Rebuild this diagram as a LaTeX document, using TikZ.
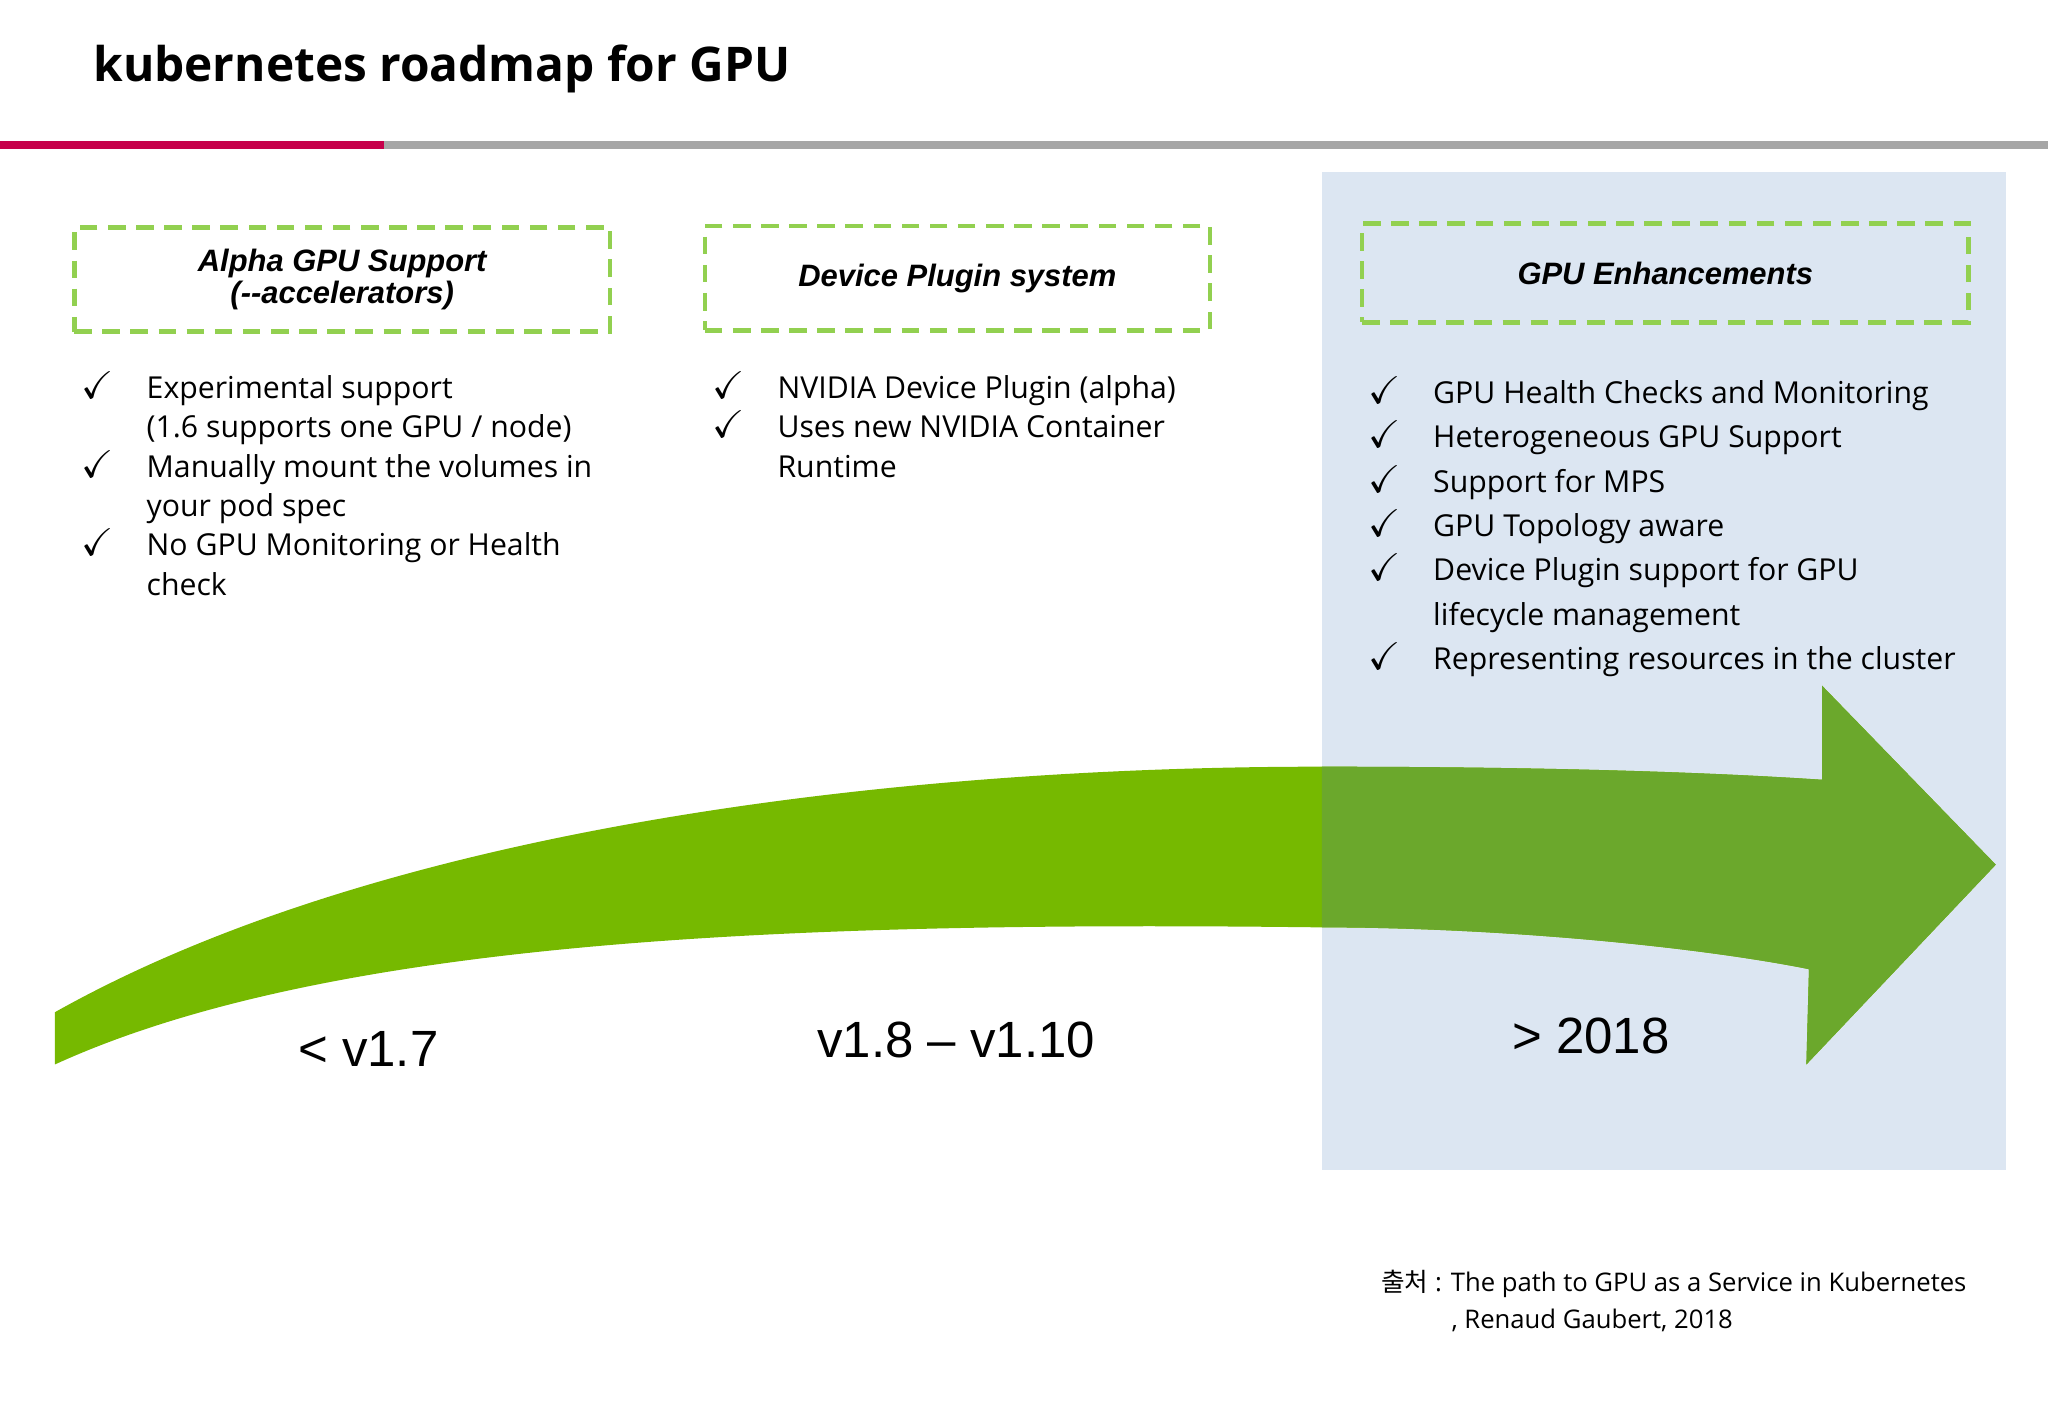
\documentclass[tikz,border=0pt]{standalone}
\usepackage{fontspec}
\usepackage{amssymb}
\setmainfont{Open Sans}
\newfontfamily\arialf{Liberation Sans}
\newfontfamily\cjk{Noto Sans CJK KR}
\definecolor{nvgreen}{HTML}{76B900}
\definecolor{nvdark}{HTML}{6BA82C}
\definecolor{panelblue}{HTML}{DCE6F2}
\definecolor{dashgreen}{HTML}{92D050}
\definecolor{lgred}{HTML}{C6004A}
\newcommand{\roadarrow}{(42,775) .. controls (300,630) and (700,587) .. (1010,587)
  .. controls (1200,587) and (1320,592) .. (1395,597) -- (1395,525) -- (1528,662)
  -- (1383,815) -- (1385,742) .. controls (1300,725) and (1150,710) .. (1010,710)
  .. controls (600,705) and (250,720) .. (42,815) -- cycle}
\newcommand{\ck}{\makebox[18.5pt][l]{\fontsize{11}{11}\selectfont$\checkmark$}}
\newcommand{\ind}{\hspace*{18.5pt}}
\begin{document}
\begin{tikzpicture}[x=0.01306cm,y=-0.01306cm]
        % styles
        \tikzstyle{phase}=[draw=dashgreen, line width=1.3pt, dash pattern=on 5pt off 3pt, minimum width=152.5pt, minimum height=29.6pt, align=center, font=\arialf\bfseries\itshape\fontsize{8.8}{9}\selectfont]
        \tikzstyle{item}=[anchor=north west, align=left, font=\fontsize{8.6}{11.2}\selectfont, inner sep=0pt]
        \tikzstyle{version}=[font=\arialf\fontsize{14.5}{15}\selectfont]
        \useasboundingbox (0,0) rectangle (1568,1085);

        % title
        \node[anchor=west, font=\bfseries\fontsize{13.6}{16}\selectfont] (title) at (62,53) {kubernetes roadmap for GPU};
        \fill[gray!70] (294,108) rectangle (1568,114);
        \fill[lgred] (0,108) rectangle (294,114);

        % panel and arrow
        \fill[panelblue] (1012,132) rectangle (1536,896);
        \fill[nvgreen] \roadarrow;
        \begin{scope}
            \clip (1012,132) rectangle (1536,896);
            \fill[nvdark] \roadarrow;
        \end{scope}

        % phases
        \node[phase] (alpha) at (262,214) {Alpha GPU Support\\(--accelerators)};
        \node[phase, minimum width=143.7pt] (plugin) at (733,213) {Device Plugin system};
        \node[phase, minimum width=172.6pt, minimum height=28.1pt] (enh) at (1275,209) {GPU Enhancements};

        % items
        \node[item] (a) at (62,284) {\ck Experimental support\\
            \ind(1.6 supports one GPU / node)\\
            \ck Manually mount the volumes in\\
            \ind your pod spec\\
            \ck No GPU Monitoring or Health\\
            \ind check};
        \node[item] (b) at (545,284) {\ck NVIDIA Device Plugin (alpha)\\
            \ck Uses new NVIDIA Container\\
            \ind Runtime};
        \node[item, font=\fontsize{8.6}{12.6}\selectfont] (c) at (1047,288) {\ck GPU Health Checks and Monitoring\\
            \ck Heterogeneous GPU Support\\
            \ck Support for MPS\\
            \ck GPU Topology aware\\
            \ck Device Plugin support for GPU\\
            \ind lifecycle management\\
            \ck Representing resources in the cluster};

        % versions
        \node[version] (v1) at (282,803) {< v1.7};
        \node[version] (v2) at (732,796) {v1.8 – v1.10};
        \node[version] (v3) at (1218,793) {> 2018};

        % source
        \node[anchor=north west, align=left, font=\fontsize{7.3}{10.6}\selectfont] (src) at (1048,963) {{\cjk 출처} : The path to GPU as a Service in Kubernetes\\
            \hspace*{20pt}, Renaud Gaubert, 2018};
\end{tikzpicture}
\end{document}
